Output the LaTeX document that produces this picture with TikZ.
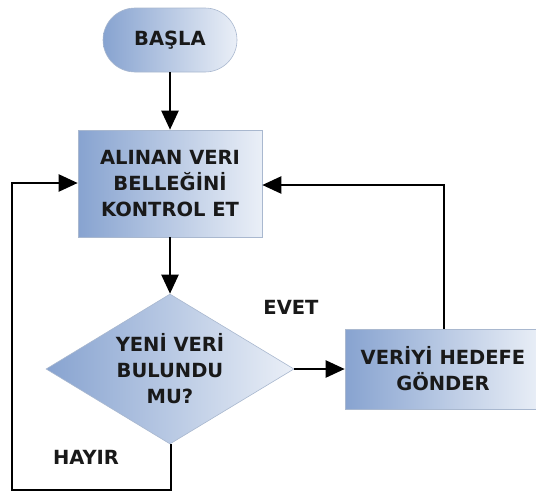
\documentclass[tikz,border=0pt]{standalone}
\usepackage{fontspec}
\setmainfont{DejaVu Sans}
\usetikzlibrary{shapes.geometric,arrows.meta}
\definecolor{dk}{HTML}{87A3D0}
\definecolor{lt}{HTML}{EAEFF7}
\definecolor{bd}{HTML}{A9B8CF}
\tikzset{
  shade/.style={left color=dk, right color=lt, draw=bd, line width=0.6pt},
  lbl/.style={font=\bfseries\fontsize{19.5}{26}\selectfont, align=center, text=black!90},
  conn/.style={line width=2.3pt, -{Triangle[length=19pt,width=17pt]}},
}
\begin{document}
\begin{tikzpicture}[x=1pt,y=-1pt]
\useasboundingbox (0,0) rectangle (536,496);
\node[shade, rounded corners=32pt, minimum width=134pt, minimum height=64pt, lbl] (start) at (170,40) {BAŞLA};
\node[shade, minimum width=184pt, minimum height=107pt, lbl] (check) at (170,183.5) {ALINAN VERI\\BELLEĞİNİ\\KONTROL ET};
\node[shade, diamond, minimum width=248pt, minimum height=150pt, aspect=1.65, inner sep=0pt] (dec) at (170,369) {};
\node[lbl] at (170,369) {YENİ VERİ\\BULUNDU\\MU?};
\node[shade, minimum width=196pt, minimum height=80pt, lbl] (send) at (443,369) {VERİYİ HEDEFE\\GÖNDER};
\node[lbl, anchor=center] (evet) at (291,307) {EVET};
\node[lbl, anchor=center] (hayir) at (86,457) {HAYIR};
\coordinate (c1) at (444,185);
\coordinate (c2) at (171,490);
\coordinate (c3) at (12,490);
\coordinate (c4) at (12,183);
\draw[conn] (start.south) -- (check.north);
\draw[conn] (check.south) -- (dec.north);
\draw[conn] (dec.east) -- (send.west);
\draw[conn] (send.north -| c1) -- (c1) -- (c1 -| check.east);
\draw[conn] (dec.south -| c2) -- (c2) -- (c3) -- (c4) -- (c4 -| check.west);
\end{tikzpicture}
\end{document}
